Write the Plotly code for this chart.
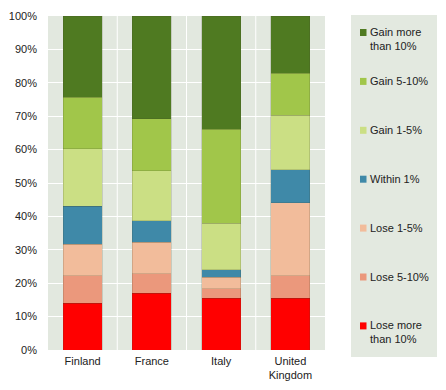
import plotly.graph_objects as go

countries = ["Finland", "France", "Italy", "United<br>Kingdom"]
series_names = ["Lose more<br>than 10%", "Lose 5-10%", "Lose 1-5%", "Within 1%",
                "Gain 1-5%", "Gain 5-10%", "Gain more<br>than 10%"]
colors = ["#ff0000", "#eb987c", "#f2bc9b", "#3f89a8", "#cbdf84", "#a1c64a", "#4f7a21"]

lose_gt10 = [14.0, 17.0, 15.5, 15.5]
lose_5_10 = [8.2, 5.8, 2.8, 6.7]
lose_1_5 = [9.4, 9.4, 3.5, 21.9]
within_1 = [11.5, 6.5, 2.2, 9.8]
gain_1_5 = [17.1, 14.9, 13.9, 16.4]
gain_5_10 = [15.5, 15.6, 28.2, 12.5]
gain_gt10 = [24.3, 30.8, 33.9, 17.2]
series_values = [lose_gt10, lose_5_10, lose_1_5, within_1, gain_1_5, gain_5_10, gain_gt10]

ytick_vals = [0, 10, 20, 30, 40, 50, 60, 70, 80, 90, 100]
ytick_text = [f"{v}%" for v in ytick_vals]

BG = "#e2e8df"
TXT = "#222222"
FONT = "Liberation Sans, Arial, sans-serif"

OFF = 8  # page body margin offset
W, H = 446 - OFF, 390 - OFF
# plot area in page pixels: x 48..325, y 16..350
ml, mt = 48 - OFF, 16 - OFF
mr = (446) - 325
mb = (390) - 350
pw, ph = W - ml - mr, H - mt - mb

def px_to_paper(px, py):
    # px, py in page (reference) pixels
    return (px - 48) / pw, (350 - py) / ph

xpos = list(range(len(countries)))
fig = go.Figure()
for name, vals, col in zip(series_names, series_values, colors):
    fig.add_trace(go.Bar(
        x=xpos, y=vals, name=name.replace("<br>", " "),
        marker=dict(color=col, line=dict(color="rgba(60,70,40,0.25)", width=0.7)),
        width=0.56, showlegend=False,
    ))

shapes = []
annotations = []
# legend background
x0, y0 = px_to_paper(351, 357)
x1, y1 = px_to_paper(437, 15)
shapes.append(dict(type="rect", xref="paper", yref="paper", x0=x0, y0=y0, x1=x1, y1=y1,
                   fillcolor="#e3e9e0", line=dict(width=0), layer="below"))
# vertical category boundary lines
for k in range(len(countries) - 1):
    shapes.append(dict(type="line", xref="x", yref="paper", x0=k + 0.5, x1=k + 0.5, y0=0, y1=1,
                       line=dict(color="white", width=1), layer="below"))

# manual legend (top = last series)
n = len(series_names)
for i in range(n):
    idx = n - 1 - i
    cy = 32.5 + i * 48.9
    sx0, sy0 = px_to_paper(360, cy + 3.5)
    sx1, sy1 = px_to_paper(366.5, cy - 3.5)
    shapes.append(dict(type="rect", xref="paper", yref="paper", x0=sx0, y0=sy0, x1=sx1, y1=sy1,
                       fillcolor=colors[idx], line=dict(width=0)))
    tx, ty = px_to_paper(368, cy - 8.5)
    annotations.append(dict(xref="paper", yref="paper", x=tx, y=ty, xanchor="left", yanchor="top",
                            text=series_names[idx], showarrow=False, align="left",
                            font=dict(family=FONT, size=11, color=TXT)))

fig.update_layout(
    barmode="stack",
    width=W, height=H,
    margin=dict(l=ml, r=mr, t=mt, b=mb, pad=0, autoexpand=False),
    paper_bgcolor="white",
    plot_bgcolor=BG,
    font=dict(family=FONT, size=11, color=TXT),
    shapes=shapes,
    annotations=annotations,
    xaxis=dict(tickvals=xpos, ticktext=countries, range=[-0.5, len(countries) - 0.5],
               showgrid=False, zeroline=False, showline=False, ticks="", automargin=False,
               ticklabelstandoff=3,
               tickfont=dict(family=FONT, size=11, color=TXT)),
    yaxis=dict(range=[0, 100], tickvals=ytick_vals, ticktext=ytick_text,
               showgrid=True, gridcolor="white", gridwidth=1, zeroline=False,
               showline=False, ticks="", ticklabelstandoff=10, automargin=False,
               tickfont=dict(family=FONT, size=11, color=TXT)),
    bargap=0.44,
)

fig.write_html("out.html")
